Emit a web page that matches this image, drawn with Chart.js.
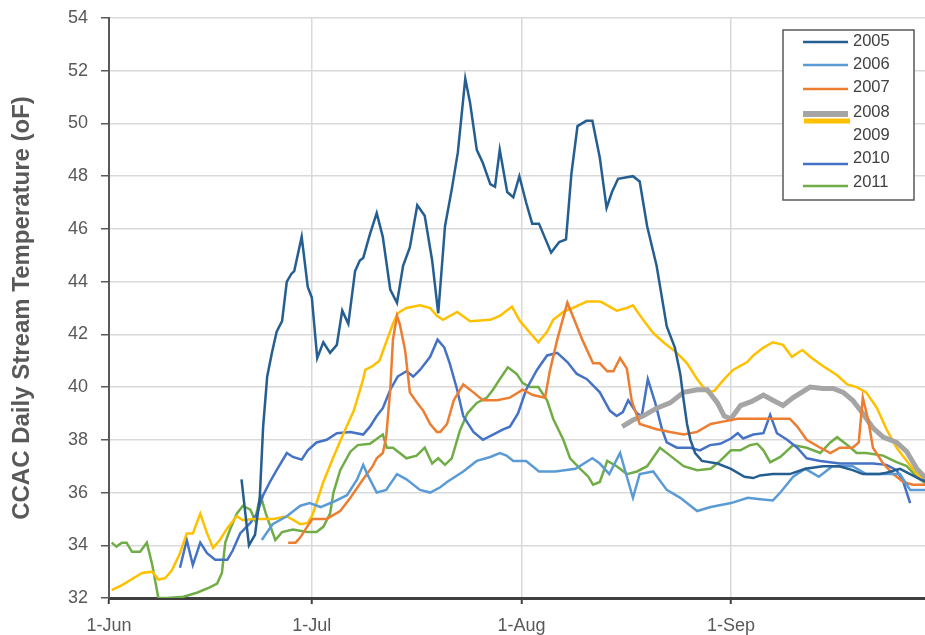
<!DOCTYPE html>
<html>
<head>
<meta charset="utf-8">
<script src="https://cdn.jsdelivr.net/npm/chart.js@4.4.1/dist/chart.umd.min.js"></script>
<style>
  html, body { margin: 0; padding: 0; background: #fff; }
  #wrap { width: 925px; height: 635px; }
</style>
</head>
<body>
<div id="wrap"><canvas id="chart"></canvas></div>
<script>
// days counted from 1-Jun, temperature in oF
const tickDays = [0, 30, 61, 92];
const tickLabels = ['1-Jun', '1-Jul', '1-Aug', '1-Sep'];
const years = ['2005', '2006', '2007', '2008', '2009', '2010', '2011'];
const colors = ['#255e91', '#5b9bd5', '#ed7d31', '#a5a5a5', '#ffc000', '#4472c4', '#70ad47'];

const t2005 = [[19.6,36.5],[20.7,34.0],[21.6,34.4],[22.3,35.8],[22.8,38.5],[23.4,40.4],[24.1,41.3],[24.8,42.1],[25.6,42.5],[26.3,44.0],[27.0,44.3],[27.4,44.4],[28.5,45.7],[29.4,43.8],[30.0,43.4],[30.8,41.1],[31.7,41.7],[32.7,41.3],[33.7,41.6],[34.5,42.9],[35.4,42.4],[36.4,44.4],[37.1,44.8],[37.6,44.9],[38.6,45.8],[39.6,46.6],[40.5,45.7],[41.6,43.7],[42.6,43.2],[43.5,44.6],[44.5,45.3],[45.6,46.9],[46.7,46.5],[47.8,44.8],[48.7,42.8],[49.7,46.1],[50.7,47.5],[51.6,48.9],[52.7,51.7],[53.4,50.8],[54.4,49.0],[55.3,48.5],[56.4,47.7],[57.1,47.6],[57.8,49.0],[58.9,47.4],[59.8,47.2],[60.7,48.0],[61.7,47.0],[62.6,46.2],[63.6,46.2],[65.4,45.1],[66.6,45.5],[67.6,45.6],[68.4,48.1],[69.3,49.9],[70.6,50.1],[71.5,50.1],[72.6,48.7],[73.6,46.8],[74.4,47.4],[75.3,47.9],[77.5,48.0],[78.5,47.8],[79.6,46.1],[81.0,44.6],[82.5,42.3],[83.7,41.5],[84.5,40.5],[85.0,39.5],[85.5,38.6],[86.0,38.0],[86.7,37.5],[87.7,37.2],[90.0,37.1],[92.0,36.9],[94.0,36.6],[95.3,36.55],[96.3,36.65],[98.2,36.7],[100.7,36.7],[103.0,36.9],[105.6,37.0],[108.0,37.0],[110.0,36.85],[111.5,36.7],[114.0,36.7],[115.0,36.75],[117.0,36.9],[118.5,36.7],[120.0,36.5],[121.0,36.4]];
const t2006 = [[22.6,34.2],[24.2,34.8],[26.3,35.1],[28.3,35.5],[29.7,35.6],[31.3,35.45],[33.2,35.65],[35.2,35.9],[36.7,36.5],[37.6,37.05],[38.2,36.7],[39.6,36.0],[41.0,36.1],[42.6,36.7],[44.0,36.5],[46.0,36.1],[47.5,36.0],[49.0,36.2],[50.0,36.4],[52.4,36.8],[54.4,37.2],[56.4,37.35],[57.8,37.5],[58.8,37.4],[59.8,37.2],[61.7,37.2],[63.6,36.8],[66.0,36.8],[69.0,36.9],[71.5,37.3],[72.6,37.1],[74.0,36.7],[75.6,37.5],[76.6,36.6],[77.5,35.8],[78.5,36.7],[80.5,36.8],[82.5,36.1],[84.5,35.8],[87.0,35.3],[89.0,35.45],[92.0,35.6],[94.5,35.8],[96.3,35.75],[98.2,35.7],[99.3,36.0],[101.2,36.6],[103.0,36.9],[105.0,36.6],[107.0,37.0],[110.0,37.0],[112.0,36.7],[115.0,36.7],[117.0,36.7],[118.5,36.1],[121.0,36.1]];
const t2007 = [[26.5,34.1],[27.6,34.1],[28.3,34.3],[29.3,34.7],[30.1,35.0],[32.2,35.0],[34.2,35.3],[35.7,35.8],[37.3,36.4],[39.0,37.0],[39.6,37.3],[40.5,37.5],[41.0,38.1],[41.6,39.9],[42.0,41.8],[42.6,42.7],[43.0,42.4],[43.8,41.4],[44.5,39.8],[45.6,39.4],[46.5,39.1],[47.5,38.6],[48.5,38.3],[49.0,38.3],[50.0,38.6],[51.0,39.5],[52.4,40.1],[53.9,39.8],[55.3,39.5],[57.4,39.5],[59.3,39.6],[61.2,39.9],[62.7,39.7],[64.5,39.6],[65.2,40.6],[66.3,41.8],[67.8,43.2],[68.6,42.7],[70.0,41.8],[71.6,40.9],[72.6,40.9],[73.7,40.6],[74.6,40.6],[75.6,41.1],[76.6,40.7],[77.3,39.5],[78.5,38.6],[81.0,38.4],[83.0,38.3],[85.0,38.2],[87.0,38.3],[89.0,38.6],[91.0,38.7],[93.0,38.8],[94.8,38.8],[96.3,38.8],[98.2,38.8],[100.7,38.8],[101.8,38.5],[103.2,38.0],[105.2,37.7],[106.7,37.5],[108.1,37.7],[110.0,37.7],[110.9,37.9],[111.5,39.6],[112.3,38.75],[113.0,37.7],[114.5,37.1],[116.0,36.7],[117.5,36.4],[118.9,36.3],[121.0,36.3]];
const t2008 = [[75.9,38.5],[77.5,38.75],[79.0,38.9],[81.0,39.2],[83.0,39.4],[85.0,39.8],[87.0,39.9],[88.5,39.9],[90.0,39.4],[91.0,38.9],[92.0,38.8],[93.4,39.3],[95.0,39.45],[96.8,39.7],[98.2,39.5],[99.7,39.3],[101.2,39.6],[103.7,40.0],[105.6,39.95],[107.1,39.95],[108.6,39.8],[110.0,39.5],[111.5,39.0],[113.0,38.45],[114.5,38.1],[116.5,37.9],[118.0,37.55],[119.5,36.9],[121.0,36.5]];
const t2009 = [[0.4,32.3],[2.0,32.5],[3.6,32.75],[4.9,32.95],[6.4,33.0],[7.3,32.7],[8.3,32.75],[9.3,33.05],[10.5,33.7],[11.5,34.45],[12.4,34.45],[13.5,35.2],[14.5,34.45],[15.4,33.9],[16.4,34.2],[17.5,34.65],[18.9,35.1],[19.8,34.95],[21.3,35.0],[24.3,35.0],[26.3,35.1],[28.3,34.8],[29.4,34.85],[30.1,35.15],[31.7,36.4],[33.2,37.35],[34.7,38.25],[36.2,39.1],[37.6,40.3],[37.9,40.65],[39.0,40.8],[40.0,41.0],[41.0,41.7],[42.0,42.4],[42.7,42.8],[44.0,43.0],[46.0,43.1],[47.5,43.0],[48.5,42.7],[49.4,42.55],[51.5,42.85],[53.4,42.5],[56.4,42.55],[57.8,42.7],[59.6,43.05],[60.8,42.5],[62.3,42.05],[63.5,41.7],[64.8,42.1],[65.7,42.55],[67.2,42.85],[68.6,43.0],[70.7,43.25],[72.6,43.25],[73.0,43.2],[75.1,42.9],[76.6,43.0],[77.5,43.1],[79.0,42.55],[80.5,42.05],[82.0,41.7],[84.0,41.3],[85.5,40.9],[87.0,40.3],[88.5,39.8],[89.5,39.85],[91.0,40.3],[92.3,40.65],[94.4,40.95],[95.3,41.2],[96.8,41.5],[98.2,41.7],[99.7,41.6],[101.0,41.15],[102.2,41.35],[102.6,41.4],[103.7,41.15],[105.6,40.8],[107.7,40.45],[109.2,40.1],[110.6,40.0],[112.0,39.8],[113.6,39.2],[115.0,38.4],[116.5,37.7],[118.0,37.2],[119.5,36.7],[121.0,36.4]];
const t2010 = [[10.5,33.15],[11.5,34.2],[12.4,33.25],[13.5,34.1],[14.5,33.7],[15.7,33.45],[17.5,33.45],[18.3,33.8],[19.4,34.45],[20.9,34.85],[21.9,35.2],[22.8,35.9],[23.8,36.4],[24.8,36.85],[26.3,37.5],[27.2,37.35],[28.5,37.25],[29.4,37.6],[30.7,37.9],[32.2,38.0],[33.7,38.25],[35.7,38.3],[37.6,38.2],[38.6,38.5],[39.6,38.9],[40.5,39.2],[41.6,39.9],[42.7,40.4],[44.0,40.6],[45.0,40.4],[46.0,40.65],[47.5,41.15],[48.6,41.8],[49.6,41.5],[50.4,40.9],[51.5,39.9],[52.4,38.9],[53.9,38.3],[55.3,38.0],[56.8,38.2],[58.3,38.4],[59.3,38.5],[60.5,39.0],[61.7,39.9],[63.3,40.65],[64.8,41.2],[66.3,41.3],[67.8,40.95],[69.2,40.5],[70.7,40.3],[72.6,39.8],[74.1,39.1],[75.1,38.9],[76.0,39.05],[76.8,39.5],[78.1,39.0],[78.8,38.9],[79.7,40.3],[80.8,39.4],[81.8,38.4],[82.5,37.9],[84.0,37.7],[86.0,37.7],[87.4,37.6],[88.9,37.8],[90.4,37.85],[92.0,38.05],[93.0,38.25],[93.8,38.05],[95.3,38.2],[96.8,38.25],[97.8,38.95],[98.8,38.25],[100.3,38.0],[101.8,37.7],[103.2,37.3],[105.2,37.2],[108.1,37.1],[111.1,37.1],[113.0,37.1],[115.0,37.05],[116.5,36.85],[117.5,36.4],[118.5,35.6]];
const t2011 = [[0.4,34.1],[1.1,33.95],[1.9,34.1],[2.6,34.1],[3.4,33.75],[4.6,33.75],[5.6,34.1],[6.4,33.25],[7.3,32.0],[8.6,32.0],[11.0,32.05],[13.0,32.2],[14.9,32.4],[16.0,32.55],[16.7,32.95],[17.2,34.1],[17.9,34.6],[18.9,35.2],[19.8,35.5],[20.9,35.35],[21.6,34.95],[22.4,35.9],[23.2,35.2],[24.6,34.2],[25.6,34.5],[27.2,34.6],[29.3,34.5],[30.7,34.5],[31.7,34.7],[32.7,35.2],[33.2,36.0],[34.2,36.85],[35.7,37.55],[36.8,37.8],[38.6,37.85],[40.5,38.2],[41.1,37.7],[42.0,37.7],[43.0,37.5],[44.0,37.3],[45.5,37.4],[46.7,37.7],[47.8,37.1],[48.7,37.3],[49.7,37.05],[50.7,37.3],[51.9,38.35],[53.0,39.0],[54.4,39.4],[55.9,39.6],[56.8,39.9],[57.8,40.3],[59.0,40.75],[60.3,40.5],[61.2,40.15],[62.3,40.0],[63.5,40.0],[64.8,39.5],[65.7,38.8],[67.2,38.0],[68.2,37.3],[69.7,36.9],[70.9,36.6],[71.6,36.3],[72.6,36.4],[73.7,37.2],[75.1,37.0],[76.6,36.7],[78.1,36.8],[79.6,37.0],[81.5,37.7],[83.0,37.4],[85.0,37.0],[87.0,36.85],[89.0,36.9],[90.4,37.2],[92.0,37.6],[93.4,37.6],[94.8,37.8],[95.9,37.85],[96.8,37.6],[97.8,37.15],[99.3,37.35],[101.2,37.8],[103.2,37.7],[105.2,37.5],[106.7,37.9],[107.7,38.1],[109.2,37.8],[110.6,37.5],[112.0,37.5],[114.5,37.4],[116.5,37.15],[118.0,37.0],[119.5,36.6],[121.0,36.3]];

const series = [t2005, t2006, t2007, t2008, t2009, t2010, t2011];
const FONT = "'Liberation Sans', Arial, sans-serif";

// legend box drawn inside the plot, 2008 and 2009 overlap like in the original
const boxLegend = {
  id: 'boxLegend',
  afterDraw(chart) {
    const ctx = chart.ctx;
    const a = chart.chartArea;
    const x0 = a.right - 142, y0 = a.top + 12, w = 131, h = 170;
    ctx.save();
    ctx.fillStyle = '#fff';
    ctx.fillRect(x0, y0, w, h);
    ctx.strokeStyle = '#595959';
    ctx.lineWidth = 1.5;
    ctx.strokeRect(x0, y0, w, h);
    const rows = [12, 35, 59, 84, 0, 134, 156];
    const textRows = [11, 34, 57, 82, 105, 128, 152];
    ctx.font = '16.5px ' + FONT;
    ctx.textBaseline = 'middle';
    years.forEach((yr, i) => {
      let ly = y0 + rows[i];
      let lw = 2.5;
      if (i === 3) lw = 6;
      if (i === 4) { ly = y0 + 91; lw = 5; }
      ctx.strokeStyle = colors[i];
      ctx.lineWidth = lw;
      ctx.beginPath();
      ctx.moveTo(x0 + (i === 4 ? 21 : 20), ly);
      ctx.lineTo(x0 + (i === 4 ? 67 : 65), ly);
      ctx.stroke();
      ctx.fillStyle = '#404040';
      ctx.fillText(yr, x0 + 70, y0 + textRows[i]);
    });
    ctx.restore();
  }
};

new Chart(document.getElementById('chart'), {
  type: 'line',
  data: {
    datasets: series.map((s, i) => ({
      label: years[i],
      data: s.map(p => ({ x: p[0], y: p[1] })),
      borderColor: colors[i],
      borderWidth: i === 3 ? 5 : 2.5,
      pointRadius: 0,
      tension: 0,
      fill: false
    }))
  },
  options: {
    responsive: true,
    maintainAspectRatio: false,
    animation: false,
    layout: { padding: { top: 18, right: 0, left: 0, bottom: 0 } },
    plugins: {
      legend: { display: false },
      tooltip: { enabled: false }
    },
    scales: {
      x: {
        type: 'linear',
        min: 0,
        max: 120.7,
        afterBuildTicks: scale => { scale.ticks = tickDays.map(v => ({ value: v })); },
        afterFit: scale => { scale.height = 37; },
        ticks: {
          autoSkip: false,
          maxRotation: 0,
          padding: 11,
          color: '#595959',
          font: { family: FONT, size: 18 },
          callback: (v) => tickLabels[tickDays.indexOf(v)]
        },
        grid: { color: '#d9d9d9', lineWidth: 1.5, tickLength: 6, tickColor: '#404040', tickWidth: 2 },
        border: { color: '#404040', width: 3 }
      },
      y: {
        min: 32,
        max: 54,
        afterFit: scale => {
          scale.width = 109;
          scale.paddingTop = 0;
          scale.paddingBottom = 0;
        },
        ticks: {
          stepSize: 2,
          padding: 13,
          color: '#595959',
          font: { family: FONT, size: 18 }
        },
        grid: { color: '#d9d9d9', lineWidth: 1.5, tickLength: 8, tickColor: '#595959', tickWidth: 1.5 },
        border: { color: '#595959', width: 2 },
        title: {
          display: true,
          text: 'CCAC Daily Stream Temperature (oF)',
          color: '#595959',
          font: { family: FONT, size: 24, weight: 'bold' },
          padding: { top: 8, bottom: 0 }
        }
      }
    }
  },
  plugins: [boxLegend]
});
</script>
</body>
</html>
